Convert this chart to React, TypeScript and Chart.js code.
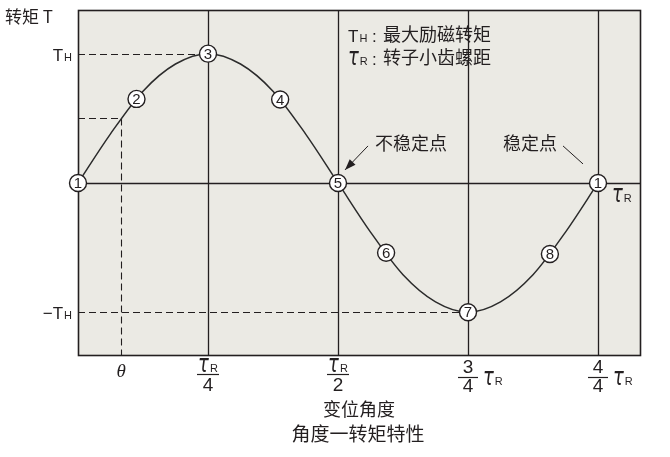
import React, { useEffect, useRef } from 'react';
import { Chart, registerables } from 'chart.js';

Chart.register(...registerables);

// Curve samples (x in quarters of the tooth pitch τR, y in units of TH)
const curveX = [0, 0.25, 0.5, 0.75, 1, 1.25, 1.5, 1.75, 2, 2.25, 2.5, 2.75, 3, 3.25, 3.5, 3.75, 4];
const curveY = [0, 0.38, 0.71, 0.92, 1, 0.92, 0.71, 0.38, 0, -0.38, -0.71, -0.92, -1, -0.92, -0.71, -0.38, 0];

// Circled reference points
const markerLabels = ['1', '2', '3', '4', '5', '6', '7', '8', '1'];
const markerX = [0, 0.45, 1, 1.555, 2, 2.37, 3, 3.63, 4];
const markerY = [0, 0.65, 1, 0.645, 0, -0.54, -1, -0.55, 0];

// Grid / guides
const gridX = [1, 2, 3, 4];
const thetaX = 0.333;
const thetaY = 0.5;

// Tick labels
const yTickValues = [1, -1];
const yTickMain = ['T', '−T'];
const yTickSub = ['H', 'H'];
const xTickValues = [thetaX, 1, 2, 3, 4];
const xTickNum = ['θ', 'τR', 'τR', '3', '4'];
const xTickDen = ['', '4', '2', '4', '4'];
const xTickSuffix = ['', '', '', 'τR', 'τR'];

const yAxisTitle = '转矩 T';
const xAxisTitle = '变位角度';
const chartTitle = '角度一转矩特性';
const legendLine1 = '最大励磁转矩';
const legendLine2 = '转子小齿螺距';
const unstableLabel = '不稳定点';
const stableLabel = '稳定点';

const INK = '#231f20';
const BG = '#ebeae4';
const SANS = '"Liberation Sans Narrow", "Liberation Sans", Arial, sans-serif';
const CJK = '"Noto Sans CJK SC", "Noto Sans", sans-serif';
const TAU_FONT = 'italic 18px "DejaVu Sans", sans-serif';
const SUB_FONT = '11px ' + SANS;

function drawSub(ctx: CanvasRenderingContext2D, x: number, y: number, main: string, sub: string,
  mainFont: string, subFont: string, align: 'left' | 'right' | 'center', mainScaleY = 1) {
  ctx.font = mainFont;
  const w1 = ctx.measureText(main).width;
  ctx.font = subFont;
  const w2 = ctx.measureText(sub).width;
  const total = w1 + w2 + 1;
  const sx = align === 'left' ? x : align === 'right' ? x - total : x - total / 2;
  ctx.textAlign = 'left';
  ctx.textBaseline = 'alphabetic';
  ctx.font = mainFont;
  if (mainScaleY !== 1) {
    ctx.save();
    ctx.translate(sx, y);
    ctx.scale(1, mainScaleY);
    ctx.fillText(main, 0, 0);
    ctx.restore();
  } else {
    ctx.fillText(main, sx, y);
  }
  ctx.font = subFont;
  ctx.fillText(sub, sx + w1 + 1, y);
  return total;
}

function drawTauR(ctx: CanvasRenderingContext2D, x: number, y: number, align: 'left' | 'right' | 'center') {
  return drawSub(ctx, x, y, 'τ', 'R', TAU_FONT, SUB_FONT, align, 1.4);
}

const decorPlugin = {
  id: 'decor',
  beforeDatasetsDraw(chart: any) {
    const { ctx, chartArea: a, scales } = chart;
    const xs = scales.x, ys = scales.y;
    ctx.save();
    ctx.fillStyle = BG;
    ctx.fillRect(a.left, a.top, a.right - a.left, a.bottom - a.top);
    ctx.strokeStyle = INK;
    ctx.lineWidth = 1.3;
    ctx.beginPath();
    gridX.forEach((v) => {
      const px = Math.round(xs.getPixelForValue(v)) + 0.5;
      ctx.moveTo(px, a.top);
      ctx.lineTo(px, a.bottom);
    });
    const y0 = Math.round(ys.getPixelForValue(0)) + 0.5;
    ctx.moveTo(a.left, y0);
    ctx.lineTo(a.right, y0);
    ctx.stroke();

    // dashed guides
    ctx.setLineDash([7, 4]);
    ctx.lineWidth = 1.1;
    ctx.beginPath();
    const yTH = Math.round(ys.getPixelForValue(1)) + 0.5;
    ctx.moveTo(a.left, yTH);
    ctx.lineTo(xs.getPixelForValue(1), yTH);
    const yNTH = Math.round(ys.getPixelForValue(-1)) + 0.5;
    ctx.moveTo(a.left, yNTH);
    ctx.lineTo(xs.getPixelForValue(3), yNTH);
    const tx = Math.round(xs.getPixelForValue(thetaX)) + 0.5;
    const ty = Math.round(ys.getPixelForValue(thetaY)) + 0.5;
    ctx.moveTo(a.left, ty);
    ctx.lineTo(tx, ty);
    ctx.moveTo(tx, ty);
    ctx.lineTo(tx, a.bottom);
    ctx.stroke();
    ctx.setLineDash([]);

    // frame
    ctx.lineWidth = 1.6;
    ctx.strokeRect(Math.round(a.left) + 0.5, Math.round(a.top) + 0.5, Math.round(a.right - a.left), Math.round(a.bottom - a.top));
    ctx.restore();
  },
  afterDatasetsDraw(chart: any) {
    const { ctx } = chart;
    const meta = chart.getDatasetMeta(0);
    ctx.save();
    ctx.fillStyle = INK;
    ctx.font = '15px ' + SANS;
    ctx.textAlign = 'center';
    ctx.textBaseline = 'middle';
    meta.data.forEach((el: any, i: number) => {
      ctx.fillText(markerLabels[i], el.x, el.y + 1);
    });
    ctx.restore();
  },
  afterDraw(chart: any) {
    const { ctx, chartArea: a, scales } = chart;
    const xs = scales.x, ys = scales.y;
    ctx.save();
    ctx.fillStyle = INK;
    ctx.strokeStyle = INK;

    // y axis title
    ctx.font = '17px ' + CJK;
    ctx.textAlign = 'left';
    ctx.textBaseline = 'alphabetic';
    ctx.fillText(yAxisTitle, 5, 23);

    // y ticks
    yTickValues.forEach((v, i) => {
      const py = ys.getPixelForValue(v);
      drawSub(ctx, a.left - 6, py + 7, yTickMain[i], yTickSub[i], '17px ' + SANS, SUB_FONT, 'right');
    });

    // x ticks
    xTickValues.forEach((v, i) => {
      const px = xs.getPixelForValue(v);
      if (!xTickDen[i]) {
        ctx.font = 'italic 19px "Liberation Serif", serif';
        ctx.textAlign = 'center';
        ctx.fillText(xTickNum[i], px, a.bottom + 22);
        return;
      }
      if (xTickNum[i] === 'τR') {
        drawTauR(ctx, px, a.bottom + 17, 'center');
        ctx.lineWidth = 1.2;
        ctx.beginPath();
        ctx.moveTo(px - 11, a.bottom + 19.5);
        ctx.lineTo(px + 11, a.bottom + 19.5);
        ctx.stroke();
        ctx.font = '19px ' + SANS;
        ctx.textAlign = 'center';
        ctx.fillText(xTickDen[i], px, a.bottom + 36);
      } else {
        ctx.font = '19px ' + SANS;
        ctx.textAlign = 'center';
        ctx.fillText(xTickNum[i], px, a.bottom + 18);
        ctx.lineWidth = 1.2;
        ctx.beginPath();
        ctx.moveTo(px - 10, a.bottom + 22.5);
        ctx.lineTo(px + 10, a.bottom + 22.5);
        ctx.stroke();
        ctx.font = '19px ' + SANS;
        ctx.textAlign = 'center';
        ctx.fillText(xTickDen[i], px, a.bottom + 37);
        if (xTickSuffix[i]) drawTauR(ctx, px + 15, a.bottom + 30, 'left');
      }
    });

    // τR next to right stable point
    const p1x = xs.getPixelForValue(4), p0y = ys.getPixelForValue(0);
    drawTauR(ctx, p1x + 14, p0y + 19, 'left');

    // axis title + chart title
    ctx.font = '18px ' + CJK;
    ctx.textAlign = 'center';
    ctx.fillText(xAxisTitle, 359, 416);
    ctx.font = '19px ' + CJK;
    ctx.fillText(chartTitle, 358, 441);

    // legend
    const lx = 348;
    drawSub(ctx, lx, 42, 'T', 'H', '17px ' + SANS, SUB_FONT, 'left');
    drawTauR(ctx, lx, 65, 'left');
    ctx.font = '17px ' + SANS;
    ctx.textAlign = 'left';
    ctx.fillText(':', lx + 24, 42);
    ctx.fillText(':', lx + 24, 65);
    ctx.font = '18px ' + CJK;
    ctx.fillText(legendLine1, lx + 35, 41);
    ctx.fillText(legendLine2, lx + 35, 64);

    // unstable point annotation
    const p5x = xs.getPixelForValue(2);
    ctx.font = '18px ' + CJK;
    ctx.fillText(unstableLabel, p5x + 37, 150);
    ctx.lineWidth = 1;
    const sx = p5x + 30, sy = p0y - 37, ex = p5x + 7, ey = p0y - 13;
    ctx.beginPath();
    ctx.moveTo(sx, sy);
    ctx.lineTo(ex, ey);
    ctx.stroke();
    const ang = Math.atan2(ey - sy, ex - sx);
    const hl = 11, hw = 4;
    ctx.beginPath();
    ctx.moveTo(ex, ey);
    ctx.lineTo(ex - hl * Math.cos(ang) + hw * Math.sin(ang), ey - hl * Math.sin(ang) - hw * Math.cos(ang));
    ctx.lineTo(ex - hl * Math.cos(ang) - hw * Math.sin(ang), ey - hl * Math.sin(ang) + hw * Math.cos(ang));
    ctx.closePath();
    ctx.fill();

    // stable point annotation
    ctx.fillText(stableLabel, p1x - 95, 150);
    ctx.beginPath();
    ctx.moveTo(p1x - 35, p0y - 37);
    ctx.lineTo(p1x - 15, p0y - 19);
    ctx.stroke();
    ctx.restore();
  },
};

export default function App() {
  const ref = useRef<HTMLCanvasElement | null>(null);
  useEffect(() => {
    if (!ref.current) return;
    const chart = new Chart(ref.current, {
      type: 'line',
      data: {
        datasets: [
          {
            label: 'points',
            data: markerX.map((x, i) => ({ x, y: markerY[i] })),
            showLine: false,
            pointRadius: 8.5,
            pointBackgroundColor: '#ffffff',
            pointBorderColor: INK,
            pointBorderWidth: 1.4,
            order: 0,
            clip: false as any,
          },
          {
            label: 'torque',
            data: curveX.map((x, i) => ({ x, y: curveY[i] })),
            borderColor: '#2b2b2b',
            borderWidth: 1.5,
            pointRadius: 0,
            cubicInterpolationMode: 'monotone',
            fill: false,
            order: 1,
          },
        ],
      },
      options: {
        animation: false,
        responsive: false,
        devicePixelRatio: 1,
        layout: { padding: { left: 78, right: 30, top: 8, bottom: 102 } },
        plugins: { legend: { display: false }, tooltip: { enabled: false } },
        scales: {
          x: { type: 'linear', min: 0, max: 4.323, display: false },
          y: { type: 'linear', min: -1.331, max: 1.3385, display: false },
        },
      },
      plugins: [decorPlugin],
    } as any);
    return () => chart.destroy();
  }, []);
  return (
    <div style={{ position: 'absolute', left: 0, top: 0, width: 670, height: 457, background: '#fff' }}>
      <canvas ref={ref} width={670} height={457} style={{ display: 'block' }} />
    </div>
  );
}
